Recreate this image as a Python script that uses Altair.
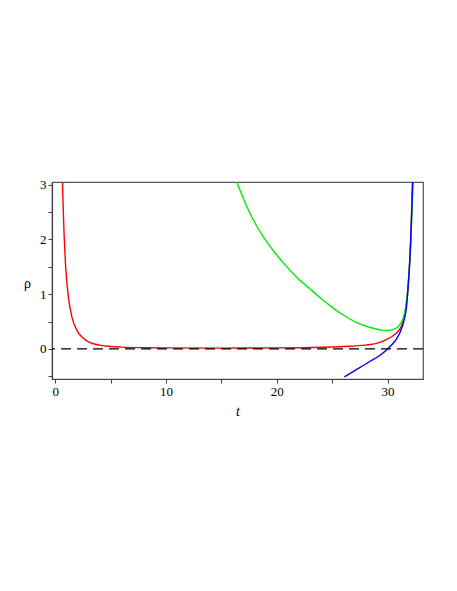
import altair as alt
import pandas as pd

# Red curve
red_t = [0.6, 0.65, 0.7, 0.8, 0.9, 1.0, 1.2, 1.5, 2.0, 2.5, 3, 4, 5, 6, 8, 10, 15, 20, 24, 26, 28, 29, 29.9, 30.5, 30.8, 31.1, 31.4, 31.6, 31.8, 31.95, 32.1, 32.25]
red_rho = [3.3, 3.05, 2.65, 2.05, 1.62, 1.32, 0.92, 0.58, 0.32, 0.2, 0.13, 0.07, 0.045, 0.033, 0.022, 0.018, 0.015, 0.018, 0.03, 0.045, 0.07, 0.1, 0.17, 0.24, 0.29, 0.36, 0.5, 0.7, 1.0, 1.4, 2.0, 3.1]

# Green curve
green_t = [16.3, 16.42, 17.0, 17.57, 18.17, 18.77, 19.7, 20.72, 21.8, 22.97, 24.0, 25.0, 26.0, 27.03, 28.2, 29.28, 29.9, 30.6, 31.1, 31.5, 31.8, 32.0, 32.15, 32.3]
green_rho = [3.1, 3.03, 2.74, 2.48, 2.25, 2.05, 1.79, 1.54, 1.31, 1.1, 0.92, 0.76, 0.62, 0.5, 0.405, 0.35, 0.335, 0.36, 0.44, 0.62, 1.05, 1.6, 2.2, 3.1]

# Blue curve
blue_t = [26.1, 27, 28, 28.4, 29.3, 29.9, 30.4, 30.8, 31.1, 31.5, 31.7, 31.9, 32.05, 32.2, 32.3]
blue_rho = [-0.51, -0.4, -0.28, -0.23, -0.12, -0.02, 0.08, 0.18, 0.29, 0.53, 0.75, 1.26, 1.8, 2.6, 3.2]

# Axis ticks
x_ticks = [0, 5, 10, 15, 20, 25, 30]
y_ticks = [-0.5, 0, 0.5, 1, 1.5, 2, 2.5, 3]

series = [("red", red_t, red_rho), ("green", green_t, green_rho), ("blue", blue_t, blue_rho)]
rows = []
for order, (name, ts, rs) in enumerate(series):
    for i, (t, r) in enumerate(zip(ts, rs)):
        rows.append({"series": name, "t": t, "rho": r, "i": i})
df = pd.DataFrame(rows)

xdom = [-0.3, 33.2]
ydom = [-0.55, 3.05]
FONT = "Liberation Serif"

x = alt.X("t:Q", scale=alt.Scale(domain=xdom, nice=False, zero=False),
          axis=alt.Axis(values=x_ticks, title="t",
                        labelExpr="datum.value % 10 == 0 ? datum.label : ''",
                        grid=False, tickSize=4, labelOverlap=False,
                        titleFontStyle="italic", titleFontWeight="normal", titlePadding=6))
y = alt.Y("rho:Q", scale=alt.Scale(domain=ydom, nice=False, zero=False),
          axis=alt.Axis(values=y_ticks, title="ρ",
                        labelExpr="abs(datum.value - round(datum.value)) < 0.01 ? format(datum.value, 'd') : ''",
                        grid=False, tickSize=4, labelOverlap=False,
                        titleAngle=0, titleX=-25, titleY=101, titleAlign="center",
                        titleBaseline="middle", titleFontWeight="normal"))

lines = alt.Chart(df).mark_line(strokeWidth=1.4, clip=True, interpolate="monotone").encode(
    x=x, y=y,
    color=alt.Color("series:N", scale=alt.Scale(domain=["red", "green", "blue"],
                                                range=["#ff0000", "#00ee00", "#0000ff"]), legend=None),
    detail="series:N",
    order="i:Q",
)

zero = alt.Chart(pd.DataFrame({"rho": [0]})).mark_rule(color="black", strokeWidth=1.1, strokeDash=[10, 6]).encode(
    y=y,
)

chart = alt.layer(lines, zero).properties(
    width=371, height=197,
    autosize=alt.AutoSizeParams(type="none"),
    padding={"left": 44, "top": 174, "right": 26, "bottom": 200},
).configure_view(stroke="#555555", strokeWidth=1.2).configure_axis(
    labelFont=FONT, titleFont=FONT, labelFontSize=13, titleFontSize=14,
    labelColor="black", titleColor="black", domainColor="#444444", tickColor="#444444",
    domainWidth=1.2, labelPadding=2,
)

chart.save("out.html", embed_options={"renderer": "svg", "actions": False})
